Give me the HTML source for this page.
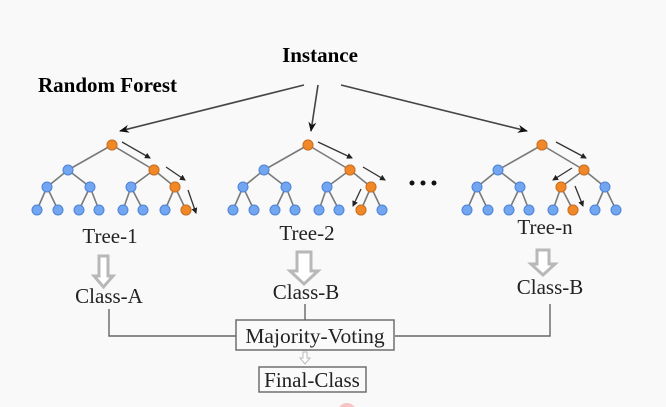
<!DOCTYPE html>
<html><head><meta charset="utf-8"><style>
html,body{margin:0;padding:0;background:#f9f9f9;}
svg{display:block;}
text{font-family:"Liberation Serif",serif;}
</style></head><body>
<svg width="666" height="407" viewBox="0 0 666 407" xmlns="http://www.w3.org/2000/svg">
<defs>
<marker id="ah" markerWidth="10" markerHeight="8" refX="9" refY="4" orient="auto" markerUnits="userSpaceOnUse"><path d="M0,0 L10,4 L0,8 L3,4 Z" fill="#111"/></marker>
<marker id="as" markerWidth="6" markerHeight="6" refX="5" refY="3" orient="auto" markerUnits="userSpaceOnUse"><path d="M0,0 L6,3 L0,6 Z" fill="#222"/></marker>
<g id="tree">
<g stroke="#7a7a7a" stroke-width="1.6" fill="none">
<path d="M0,145 L-44,170 M0,145 L42,170 M-44,170 L-65,187 M-44,170 L-22,187 M42,170 L19,187 M42,170 L63,187 M-65,187 L-75,210 M-65,187 L-54,210 M-22,187 L-33,210 M-22,187 L-13,210 M19,187 L11,210 M19,187 L31,210 M63,187 L53,210 M63,187 L74,210"/>
</g>
<g fill="#72a6f0" stroke="#4d82d6" stroke-width="1">
<circle cx="0" cy="145" r="5"/><circle cx="-44" cy="170" r="5"/><circle cx="42" cy="170" r="5"/>
<circle cx="-65" cy="187" r="5"/><circle cx="-22" cy="187" r="5"/><circle cx="19" cy="187" r="5"/><circle cx="63" cy="187" r="5"/>
<circle cx="-75" cy="210" r="5"/><circle cx="-54" cy="210" r="5"/><circle cx="-33" cy="210" r="5"/><circle cx="-13" cy="210" r="5"/>
<circle cx="11" cy="210" r="5"/><circle cx="31" cy="210" r="5"/><circle cx="53" cy="210" r="5"/><circle cx="74" cy="210" r="5"/>
</g>
</g>
</defs>

<text x="320" y="62" font-size="21" font-weight="bold" text-anchor="middle">Instance</text>
<text x="38" y="92" font-size="21" font-weight="bold">Random Forest</text>

<g stroke="#444" stroke-width="1.6" fill="none" marker-end="url(#ah)">
<path d="M304,85 L120,131"/>
<path d="M318,85 L311,131"/>
<path d="M341,85 L527,131"/>
</g>

<use href="#tree" transform="translate(112,0)"/>
<use href="#tree" transform="translate(308,0)"/>
<use href="#tree" transform="translate(542,0)"/>

<g fill="#f0882a" stroke="#d46e14" stroke-width="1">
<circle cx="112" cy="145" r="5"/><circle cx="154" cy="170" r="5"/><circle cx="175" cy="187" r="5"/><circle cx="186" cy="210" r="5"/>
<circle cx="308" cy="145" r="5"/><circle cx="350" cy="170" r="5"/><circle cx="371" cy="187" r="5"/><circle cx="361" cy="210" r="5"/>
<circle cx="542" cy="145" r="5"/><circle cx="584" cy="170" r="5"/><circle cx="561" cy="187" r="5"/><circle cx="573" cy="210" r="5"/>
</g>

<g stroke="#333" stroke-width="1.3" fill="none" marker-end="url(#as)">
<path d="M122,142 L150,158"/><path d="M166,167 L185,180"/><path d="M188,190 L196,213"/>
<path d="M318,142 L352,158"/><path d="M363,167 L385,180"/><path d="M361,189 L353,206"/>
<path d="M556,142 L586,158"/><path d="M572,168 L553,180"/><path d="M575,186 L583,206"/>
</g>

<g fill="#111"><circle cx="412" cy="183" r="2.5"/><circle cx="423" cy="183" r="2.5"/><circle cx="434" cy="183" r="2.5"/></g>

<g font-size="21" text-anchor="middle" fill="#222">
<text x="110" y="243">Tree-1</text>
<text x="307" y="240">Tree-2</text>
<text x="545" y="234">Tree-n</text>
<text x="109" y="303">Class-A</text>
<text x="306" y="299">Class-B</text>
<text x="550" y="294">Class-B</text>
</g>

<g fill="#fff" stroke="#b8b8b8" stroke-width="3">
<path d="M99,256 H108 V276 H113 L103.5,287 L94,276 H99 Z"/>
<path d="M297,252 H311 V271 H318 L304,284 L290,271 H297 Z"/>
<path d="M537,250 H549 V264 H555 L543,275 L531,264 H537 Z"/>
</g>

<g stroke="#666" stroke-width="1.4" fill="none">
<path d="M109,309 V336 H236"/>
<path d="M305,304 V320"/>
<path d="M550,304 V336 H395"/>
</g>
<rect x="236" y="320" width="158" height="30" fill="#fafafa" stroke="#666" stroke-width="1.4"/>
<text x="315" y="343" font-size="21.5" text-anchor="middle" fill="#222">Majority-Voting</text>
<path d="M303,352 H307 V358 H310 L305,364 L300,358 H303 Z" fill="#fff" stroke="#bbb" stroke-width="1"/>
<rect x="259" y="367" width="107" height="25" fill="#fafafa" stroke="#666" stroke-width="1.4"/>
<text x="312" y="387" font-size="21" text-anchor="middle" fill="#222">Final-Class</text>
<circle cx="347" cy="412" r="9" fill="#f4a0a0" opacity="0.6"/>
</svg>
</body></html>
